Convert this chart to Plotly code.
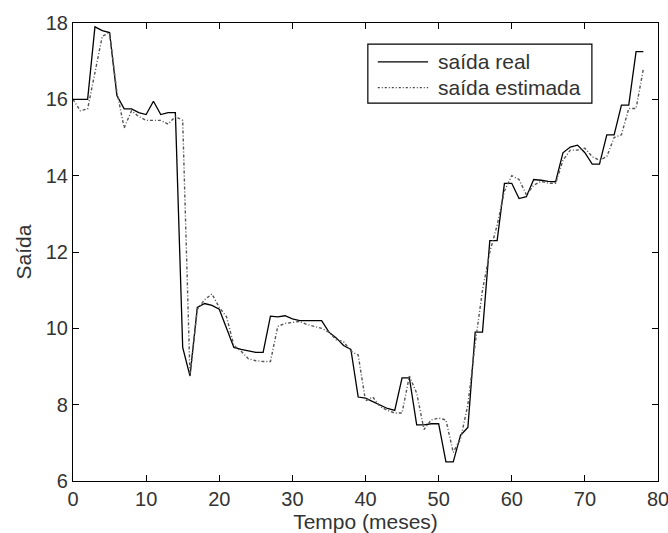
import plotly.graph_objects as go

t = list(range(79))
real = [16.0, 16.0, 16.0, 17.9, 17.8, 17.75, 16.1, 15.75, 15.75, 15.65,
        15.6, 15.95, 15.6, 15.65, 15.65, 9.5, 8.75, 10.55, 10.65, 10.6,
        10.5, 10.0, 9.5, 9.45, 9.4, 9.37, 9.37, 10.32, 10.3, 10.33,
        10.25, 10.2, 10.2, 10.2, 10.2, 9.9, 9.75, 9.55, 9.45, 8.2,
        8.17, 8.08, 8.0, 7.9, 7.85, 8.7, 8.7, 7.47, 7.47, 7.5,
        7.5, 6.5, 6.5, 7.2, 7.4, 9.9, 9.9, 12.3, 12.3, 13.8,
        13.8, 13.4, 13.45, 13.9, 13.88, 13.85, 13.84, 14.6, 14.75, 14.8,
        14.6, 14.3, 14.3, 15.07, 15.07, 15.85, 15.85, 17.25, 17.25]
est = [16.0, 15.7, 15.75, 16.7, 17.65, 17.75, 16.2, 15.25, 15.7, 15.55,
       15.45, 15.45, 15.45, 15.35, 15.55, 15.45, 8.75, 10.5, 10.75, 10.9,
       10.55, 10.3, 9.55, 9.4, 9.2, 9.15, 9.13, 9.13, 10.05, 10.13,
       10.15, 10.18, 10.1, 10.05, 10.0, 9.9, 9.7, 9.65, 9.4, 9.3,
       8.1, 8.2, 7.95, 7.85, 7.78, 7.78, 8.75, 8.3, 7.35, 7.6,
       7.65, 7.6, 6.75, 7.1, 8.0, 9.6, 11.0, 12.0, 12.7, 13.6,
       14.0, 13.9, 13.5, 13.75, 13.85, 13.8, 13.8, 14.4, 14.67, 14.67,
       14.72, 14.5, 14.4, 14.5, 15.0, 15.07, 15.76, 15.76, 16.8]

x_ticks = [0, 10, 20, 30, 40, 50, 60, 70, 80]
y_ticks = [6, 8, 10, 12, 14, 16, 18]
series_names = ["saída real", "saída estimada"]

TXT = "#333333"
real_line = dict(color="black", width=1.3)
est_line = dict(color="#555555", width=1.4, dash="3px,2px,1px,2px")

fig = go.Figure()
fig.add_trace(go.Scatter(x=t, y=real, mode="lines", name=series_names[0],
                         line=real_line, showlegend=False))
fig.add_trace(go.Scatter(x=t, y=est, mode="lines", name=series_names[1],
                         line=est_line, showlegend=False))

axis_common = dict(showline=True, linecolor="black", linewidth=1.2, mirror="ticks",
                   ticks="inside", ticklen=6, tickcolor="black", showgrid=False,
                   zeroline=False, tickfont=dict(size=20, color=TXT),
                   ticklabeloverflow="allow")
fig.update_xaxes(range=[0, 80], tickvals=x_ticks,
                 title=dict(text="Tempo (meses)", font=dict(size=21, color=TXT), standoff=0),
                 **axis_common)
fig.update_yaxes(range=[6, 18], tickvals=y_ticks,
                 title=dict(text="Saída", font=dict(size=21, color=TXT), standoff=8),
                 **axis_common)

# manual legend (box, line samples, labels) in paper coordinates
fig.add_shape(type="rect", xref="paper", yref="paper", x0=0.504, x1=0.887, y0=0.825, y1=0.954,
              line=dict(color="black", width=1.2), fillcolor="white", layer="above")
rows_y = [0.915, 0.859]
line_styles = [real_line, dict(color="#444444", width=1.4, dash="2px,2px,1px,2px")]
for name, yy, ls in zip(series_names, rows_y, line_styles):
    fig.add_shape(type="line", xref="paper", yref="paper", x0=0.521, x1=0.607, y0=yy, y1=yy,
                  line=ls, layer="above")
    fig.add_annotation(xref="paper", yref="paper", x=0.62, y=yy, text=name, showarrow=False,
                       xanchor="left", yanchor="middle", font=dict(size=21, color=TXT))

fig.update_layout(
    width=668, height=533,
    margin=dict(l=73, r=10, t=23, b=52, autoexpand=False),
    paper_bgcolor="white", plot_bgcolor="white",
    font=dict(family="Liberation Sans, Arial, sans-serif", size=20, color=TXT),
    showlegend=False,
)
fig.write_html("out.html")
